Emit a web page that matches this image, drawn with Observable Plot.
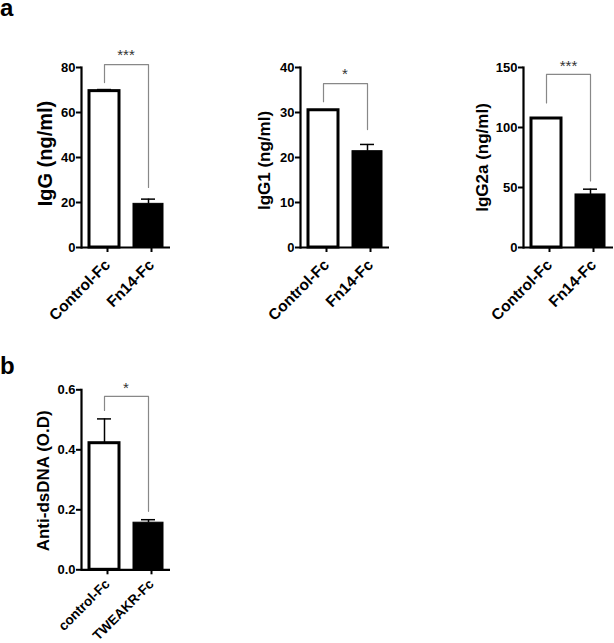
<!DOCTYPE html>
<html>
<head>
<meta charset="utf-8">
<script src="https://cdn.jsdelivr.net/npm/d3@7"></script>
<script src="https://cdn.jsdelivr.net/npm/@observablehq/plot@0.6"></script>
<style>
  html, body { margin: 0; padding: 0; background: white; }
  #root { position: relative; width: 614px; height: 643px; font-family: "Liberation Sans", Arial, sans-serif; }
  .panel { position: absolute; }
  .tag { position: absolute; font-weight: bold; font-size: 24px; line-height: 0.6; color: #000; }
</style>
</head>
<body>
<div id="root"></div>
<script>
// ---- data ----
const groupsA = ["Control-Fc", "Fn14-Fc"];
const groupsB = ["control-Fc", "TWEAKR-Fc"];

const iggValues = [69.5, 19.4];
const iggUpper = [70.2, 21.5];
const igg1Values = [30.5, 21.4];
const igg1Upper = [30.5, 22.9];
const igg2aValues = [107.5, 44.2];
const igg2aUpper = [107.5, 48.6];
const dsdnaValues = [0.422, 0.157];
const dsdnaUpper = [0.503, 0.167];

const iggTicks = [0, 20, 40, 60, 80];
const igg1Ticks = [0, 10, 20, 30, 40];
const igg2aTicks = [0, 50, 100, 150];
const dsdnaTicks = [0, 0.2, 0.4, 0.6];

// significance brackets: [left leg bottom, top, right leg bottom], star position
const iggBracket = [73.3, 81.3, 26.7];
const igg1Bracket = [32.4, 36.4, 26.2];
const igg2aBracket = [120.5, 144.2, 55.5];
const dsdnaBracket = [0.531, 0.578, 0.195];
const iggStars = "***", igg1Stars = "*", igg2aStars = "***", dsdnaStars = "*";

const font = "'Liberation Sans', Arial, sans-serif";

function makeChart(o) {
  const rows = o.groups.map((g, i) => ({group: g, value: o.values[i], upper: o.upper[i], idx: i}));
  const br = [
    {x: o.groups[0], y: o.bracket[0]},
    {x: o.groups[0], y: o.bracket[1]},
    {x: o.groups[1], y: o.bracket[1]},
    {x: o.groups[1], y: o.bracket[2]}
  ];
  const mid = (o.yDomain[0] + o.yDomain[1]) / 2;
  return Plot.plot({
    width: o.width, height: o.height,
    marginLeft: o.marginLeft, marginRight: o.marginRight,
    marginTop: o.marginTop, marginBottom: o.marginBottom,
    style: {fontFamily: font, color: "black", background: "transparent", overflow: "visible"},
    x: {domain: o.groups, paddingInner: o.padIn, paddingOuter: o.padOut, label: null},
    y: {domain: o.yDomain, label: null},
    marks: [
      Plot.barY(rows.filter(d => d.idx === 0), {x: "group", y: "value", fill: "white", stroke: "black", strokeWidth: 3, inset: 0}),
      Plot.barY(rows.filter(d => d.idx === 1), {x: "group", y: "value", fill: "black", stroke: "black", strokeWidth: 1, inset: 0}),
      Plot.ruleX(rows, {x: "group", y1: "value", y2: "upper", stroke: "black", strokeWidth: 1.5}),
      Plot.tickY(rows.filter(d => d.upper > d.value), {x: "group", y: "upper", stroke: "black", strokeWidth: 1.5, inset: 8}),
      Plot.line(br, {x: "x", y: "y", stroke: "#888", strokeWidth: 1.2}),
      Plot.text([o.stars], {y: o.starY, text: d => d, fontSize: 15, fill: "#333", lineAnchor: "middle"}),
      Plot.ruleY([0], {stroke: "black", strokeWidth: 2.2}),
      Plot.frame({anchor: "left", stroke: "black", strokeWidth: 2.2}),
      Plot.axisY({ticks: o.yTicks, tickSize: 5, tickPadding: 1, fontSize: 13, fontWeight: "bold", label: null, strokeWidth: 2, tickFormat: o.tickFormat}),
      Plot.axisX({tickRotate: -45, tickSize: 5, tickPadding: o.xPad, dx: 3, fontSize: o.xFont, fontWeight: "bold", label: null, strokeWidth: 2}),
      Plot.text([o.yLabel], {frameAnchor: "left", y: () => mid, rotate: -90, textAnchor: "middle", lineAnchor: "middle", dx: o.labelDx, dy: o.labelDy, fontSize: o.labelSize, fontWeight: "bold", fill: "black", text: d => d})
    ]
  });
}

const root = document.getElementById("root");
function place(el, left, top) {
  el.classList.add("panel");
  el.style.left = left + "px";
  el.style.top = top + "px";
  root.appendChild(el);
}

const common = {width: 172, height: 340, marginLeft: 81, marginRight: 2, marginTop: 67, marginBottom: 93, padIn: 0.32, padOut: 0.17, xFont: 15.5, xPad: 10};

place(makeChart({...common, groups: groupsA, values: iggValues, upper: iggUpper, yDomain: [0, 80], yTicks: iggTicks,
  bracket: iggBracket, stars: iggStars, starY: 85.5, yLabel: "IgG (ng/ml)", labelSize: 20, labelDx: -36, labelDy: -4}), 0, 0);
place(makeChart({...common, groups: groupsA, values: igg1Values, upper: igg1Upper, yDomain: [0, 40], yTicks: igg1Ticks,
  bracket: igg1Bracket, stars: igg1Stars, starY: 38.6, yLabel: "IgG1 (ng/ml)", labelSize: 17, labelDx: -36, labelDy: 3}), 219, 0);
place(makeChart({...common, marginLeft: 81, marginRight: 1, padIn: 0.31, padOut: 0.17, groups: groupsA, values: igg2aValues, upper: igg2aUpper, yDomain: [0, 150], yTicks: igg2aTicks,
  bracket: igg2aBracket, stars: igg2aStars, starY: 151, yLabel: "IgG2a (ng/ml)", labelSize: 17, labelDx: -41, labelDy: 0}), 442, 0);
place(makeChart({...common, height: 283, marginTop: 29.3, marginBottom: 73.7, xFont: 13.5, xPad: 7, groups: groupsB, values: dsdnaValues, upper: dsdnaUpper, yDomain: [0, 0.6], yTicks: dsdnaTicks,
  tickFormat: d3.format(".1f"),
  bracket: dsdnaBracket, stars: dsdnaStars, starY: 0.605, yLabel: "Anti-dsDNA (O.D)", labelSize: 17, labelDx: -38, labelDy: 1}), 0, 360);

const ta = document.createElement("div"); ta.className = "tag"; ta.textContent = "a"; ta.style.left = "0px"; ta.style.top = "1px"; root.appendChild(ta);
const tb = document.createElement("div"); tb.className = "tag"; tb.textContent = "b"; tb.style.left = "0px"; tb.style.top = "359px"; root.appendChild(tb);
</script>
</body>
</html>
